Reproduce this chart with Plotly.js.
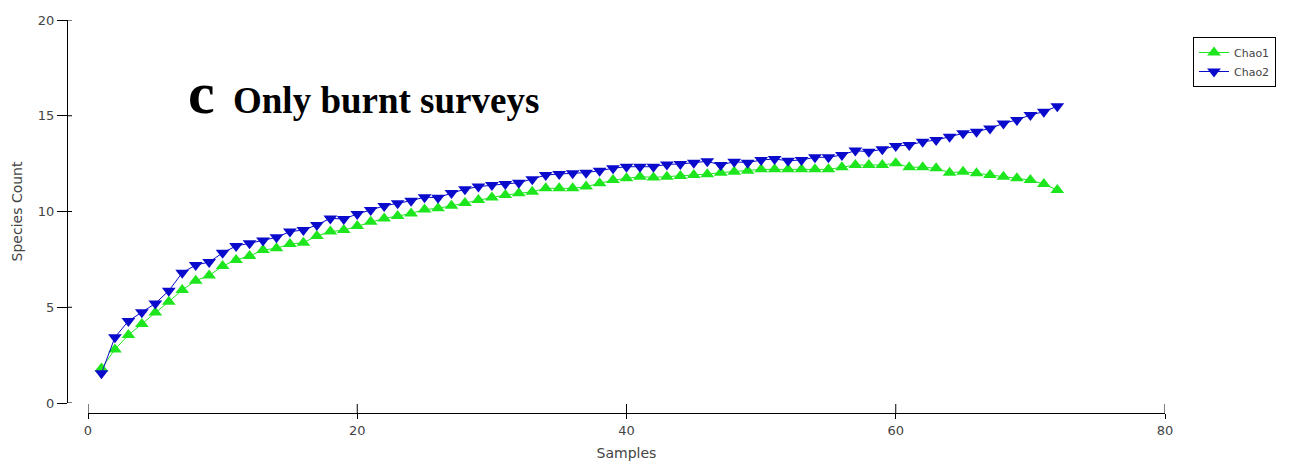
<!DOCTYPE html>
<html>
<head>
<meta charset="utf-8">
<script src="https://cdn.plot.ly/plotly-3.0.1.min.js"></script>
<style>html,body{margin:0;padding:0;background:#fff;}#chart{width:1296px;height:472px;}</style>
</head>
<body>
<div id="chart"></div>
<script>
const samples = Array.from({length: 72}, (_, i) => i + 1);
const chao1 = [1.8, 2.8, 3.55, 4.12, 4.72, 5.29, 5.9, 6.39, 6.66, 7.15,
  7.47, 7.68, 7.99, 8.08, 8.3, 8.37, 8.72, 8.95, 9.03, 9.24,
  9.47, 9.64, 9.76, 9.9, 10.1, 10.17, 10.3, 10.45, 10.6, 10.73,
  10.86, 10.95, 11.03, 11.21, 11.21, 11.21, 11.3, 11.47, 11.64, 11.73,
  11.82, 11.78, 11.82, 11.85, 11.9, 11.95, 12.03, 12.08, 12.13, 12.2,
  12.2, 12.2, 12.2, 12.2, 12.2, 12.31, 12.43, 12.43, 12.43, 12.52,
  12.31, 12.31, 12.26, 12.03, 12.08, 12.0, 11.9, 11.82, 11.73, 11.64,
  11.43, 11.12];
const chao2 = [1.55, 3.43, 4.28, 4.74, 5.2, 5.86, 6.8, 7.2, 7.36, 7.84,
  8.2, 8.34, 8.48, 8.65, 8.95, 9.03, 9.3, 9.64, 9.61, 9.87,
  10.08, 10.29, 10.43, 10.56, 10.75, 10.72, 10.96, 11.16, 11.3, 11.38,
  11.44, 11.5, 11.68, 11.9, 11.96, 12.0, 12.03, 12.13, 12.26, 12.34,
  12.34, 12.34, 12.46, 12.48, 12.55, 12.62, 12.43, 12.6, 12.55, 12.69,
  12.74, 12.65, 12.69, 12.83, 12.83, 12.95, 13.18, 13.12, 13.25, 13.42,
  13.47, 13.64, 13.73, 13.9, 14.08, 14.17, 14.34, 14.6, 14.78, 15.04,
  15.21, 15.5];
const seriesNames = ["Chao1", "Chao2"];
const xTicks = [0, 20, 40, 60, 80];
const yTicks = [0, 5, 10, 15, 20];

const sansFont = "DejaVu Sans, Verdana, sans-serif";
const tickFont = {family: sansFont, size: 13, color: "#444"};

const traces = [
  {x: samples, y: chao1, name: seriesNames[0], type: "scatter", mode: "lines+markers",
   line: {color: "#1ee61e", width: 1},
   marker: {symbol: "triangle-up", size: 12, color: "#1ee61e"}},
  {x: samples, y: chao2, name: seriesNames[1], type: "scatter", mode: "lines+markers",
   line: {color: "#0a0acc", width: 1},
   marker: {symbol: "triangle-down", size: 12, color: "#0a0acc"}}
];

// inner halves of the crossing tick marks, one per tick value
const tickShapes = [];
yTicks.forEach(v => tickShapes.push({type: "line", xref: "paper", yref: "y",
  x0: 0, x1: 5/1098, y0: v, y1: v, line: {color: "#000", width: 1}}));
xTicks.forEach(v => tickShapes.push({type: "line", xref: "x", yref: "paper",
  y0: 0, y1: 9/393, x0: v, x1: v, line: {color: "#000", width: 1}}));

const layout = {
  width: 1296, height: 472,
  paper_bgcolor: "#fff", plot_bgcolor: "#fff",
  margin: {l: 67, r: 131, t: 20, b: 59},
  showlegend: true,
  legend: {x: 1193/1296, y: 1 - 37/472, xref: "container", yref: "container", xanchor: "left", yanchor: "top",
    bordercolor: "#000", borderwidth: 1, bgcolor: "#fff",
    font: {family: sansFont, size: 11, color: "#444"},
    itemwidth: 30, tracegroupgap: 0},
  xaxis: {domain: [21/1098, 1], range: [0, 80], anchor: "free", position: 0,
    tickvals: xTicks, ticks: "outside", ticklen: 5, tickwidth: 1, tickcolor: "#000",
    showline: true, linecolor: "#000", linewidth: 1, showgrid: false, zeroline: false,
    tickfont: tickFont,
    title: {text: "Samples", font: {family: sansFont, size: 14, color: "#444"}, standoff: 11}},
  yaxis: {domain: [10/393, 1], range: [0, 20], anchor: "free", position: 0,
    tickvals: yTicks, ticks: "outside", ticklen: 10, tickwidth: 1, tickcolor: "#000",
    showline: true, linecolor: "#000", linewidth: 1, showgrid: false, zeroline: false,
    tickfont: tickFont,
    title: {text: "Species Count", font: {family: sansFont, size: 14, color: "#444"}, standoff: 10}},
  shapes: tickShapes,
  annotations: [
    {text: "<b>c</b>", xref: "paper", yref: "paper", x: (186-67)/1098, y: (413-113)/393, xanchor: "left", yanchor: "bottom",
     showarrow: false, font: {family: "Liberation Serif, Times New Roman, serif", size: 60, color: "#000"}, yshift: -15},
    {text: "<b>Only burnt surveys</b>", xref: "paper", yref: "paper", x: (231-67)/1098, y: (413-113)/393, xanchor: "left", yanchor: "bottom",
     showarrow: false, font: {family: "Liberation Serif, Times New Roman, serif", size: 37, color: "#000"}, yshift: -10}
  ]
};

Plotly.newPlot("chart", traces, layout, {displayModeBar: false, staticPlot: true});
</script>
</body>
</html>
